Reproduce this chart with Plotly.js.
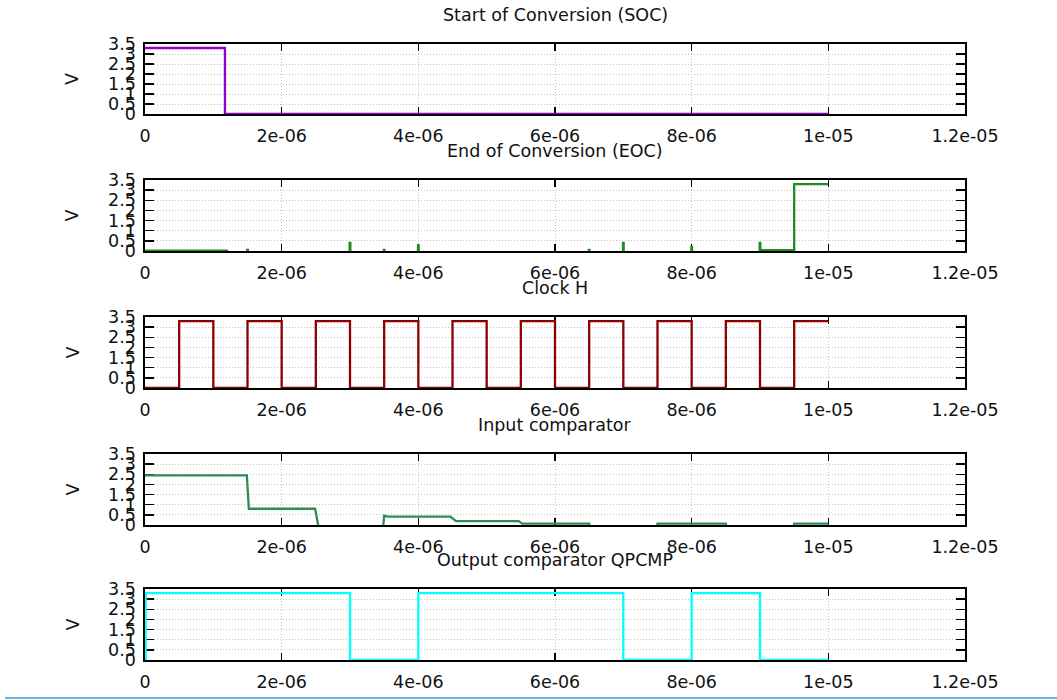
<!DOCTYPE html>
<html>
<head>
<meta charset="utf-8">
<script src="https://cdn.plot.ly/plotly-3.0.1.min.js"></script>
<style>html,body{margin:0;padding:0;background:#fff;}#chart{width:1057px;height:700px;}</style>
</head>
<body>
<div id="chart"></div>
<script>
// ---- data (time in seconds, voltage in V) ----
const titles = ["Start of Conversion (SOC)", "End of Conversion (EOC)", "Clock H", "Input comparator", "Output comparator QPCMP"];
const xTickVals = [0, 2e-6, 4e-6, 6e-6, 8e-6, 1e-5, 1.2e-5];
const xTickText = ["0", "2e-06", "4e-06", "6e-06", "8e-06", "1e-05", "1.2e-05"];
const yTickVals = [0, 0.5, 1, 1.5, 2, 2.5, 3, 3.5];
const yTickText = ["0", "0.5", "1", "1.5", "2", "2.5", "3", "3.5"];

const socT = [0, 1.17e-6, 1e-5];
const socV = [3.3, 0, 0];

const eocT = [0, 1.2e-6, 1.495e-6, 1.505e-6, 2.995e-6, 3.005e-6, 3.495e-6, 3.505e-6, 3.995e-6, 4.005e-6, 6.495e-6, 6.505e-6, 6.995e-6, 7.005e-6, 7.995e-6, 8.005e-6, 8.995e-6, 9.005e-6, 9.5e-6, 1e-5];
const eocV = [0.02, -0.3, 0.05, -0.3, 0.4, -0.3, 0.05, -0.3, 0.28, -0.3, 0.05, -0.3, 0.4, -0.3, 0.2, -0.3, 0.4, 0.04, 3.3, 3.3];

const clkT = [0, 0.5e-6, 1e-6, 1.5e-6, 2e-6, 2.5e-6, 3e-6, 3.5e-6, 4e-6, 4.5e-6, 5e-6, 5.5e-6, 6e-6, 6.5e-6, 7e-6, 7.5e-6, 8e-6, 8.5e-6, 9e-6, 9.5e-6, 1e-5];
const clkV = [0, 3.3, 0, 3.3, 0, 3.3, 0, 3.3, 0, 3.3, 0, 3.3, 0, 3.3, 0, 3.3, 0, 3.3, 0, 3.3, 3.3];

const cmpInT = [0, 1.49e-6, 1.52e-6, 2.49e-6, 2.55e-6, 3.48e-6, 3.5e-6, 3.56e-6, 4.47e-6, 4.55e-6, 5.47e-6, 5.52e-6, 6.5e-6, 6.52e-6, 7.48e-6, 7.5e-6, 8.5e-6, 8.52e-6, 9.48e-6, 9.5e-6, 1e-5];
const cmpInV = [2.45, 2.45, 0.8, 0.8, -0.3, -0.3, 0.46, 0.41, 0.41, 0.19, 0.19, 0.07, 0.07, -0.3, -0.3, 0.07, 0.07, -0.3, -0.3, 0.07, 0.07];

const cmpOutT = [0, 0.01e-6, 3e-6, 4e-6, 7e-6, 8e-6, 9e-6, 1e-5];
const cmpOutV = [0, 3.3, 0, 3.3, 0, 3.3, 0, 0];

const colors = ["#9400d3", "#228b22", "#8b0000", "#2e8b57", "#00ffff"];

// ---- layout geometry ----
const W = 1057, H = 700;
const plotTopPx = [44, 180, 317, 454, 589];
const plotBotPx = [114, 251, 388, 525, 660];

const series = [
  {t: socT, v: socV, shape: "hv"},
  {t: eocT, v: eocV, shape: "hv"},
  {t: clkT, v: clkV, shape: "hv"},
  {t: cmpInT, v: cmpInV, shape: "linear"},
  {t: cmpOutT, v: cmpOutV, shape: "hv"}
];

const font = {family: "DejaVu Sans", size: 17.5, color: "#111"};
const data = [];
const layout = {
  width: W, height: H,
  margin: {l: 145, r: 92, t: 0, b: 0},
  paper_bgcolor: "#fff", plot_bgcolor: "#fff",
  showlegend: false,
  font: font,
  annotations: [],
  shapes: [{type: "line", xref: "paper", yref: "paper", x0: -140 / 820, x1: 912 / 820, y0: 2 / 700, y1: 2 / 700, line: {color: "#64b4e6", width: 2}}]
};

series.forEach((s, i) => {
  const n = i === 0 ? "" : String(i + 1);
  data.push({
    x: s.t, y: s.v, type: "scatter", mode: "lines",
    line: {color: colors[i], width: 2.3, shape: s.shape},
    xaxis: "x" + n, yaxis: "y" + n, hoverinfo: "skip"
  });
  const dom = [1 - plotBotPx[i] / H, 1 - plotTopPx[i] / H];
  layout["xaxis" + n] = {
    anchor: "y" + n, domain: [0, 1], range: [0, 1.2e-5],
    tickmode: "array", tickvals: xTickVals, ticktext: xTickText,
    ticks: "inside", ticklen: 7, tickwidth: 1.5, tickcolor: "#000",
    showline: true, linecolor: "#000", linewidth: 1.6, mirror: "allticks",
    showgrid: true, gridcolor: "#c4c4c4", griddash: "1px,2px", gridwidth: 1,
    zeroline: false, layer: "below traces", fixedrange: true,
    tickfont: font, ticklabelstandoff: 5
  };
  layout["yaxis" + n] = {
    anchor: "x" + n, domain: dom, range: [0, 3.5],
    tickmode: "array", tickvals: yTickVals, ticktext: yTickText,
    ticks: "inside", ticklen: 9, tickwidth: 1.5, tickcolor: "#000",
    showline: true, linecolor: "#000", linewidth: 1.6, mirror: "allticks",
    showgrid: true, gridcolor: "#c4c4c4", griddash: "1px,2px", gridwidth: 1,
    zeroline: false, layer: "below traces", fixedrange: true,
    tickfont: font, ticklabelstandoff: 4
  };
  layout.annotations.push({
    text: titles[i], xref: "paper", yref: "paper", x: 0.5, y: 1 - (plotTopPx[i] - 29) / H,
    xanchor: "center", yanchor: "middle", showarrow: false, font: font
  });
  layout.annotations.push({
    text: "V", xref: "paper", yref: "paper", x: (72 - 145) / (W - 145 - 92), y: (dom[0] + dom[1]) / 2,
    xanchor: "center", yanchor: "middle", textangle: -90, showarrow: false, font: font
  });
});

Plotly.newPlot("chart", data, layout, {displayModeBar: false, staticPlot: true});
</script>
</body>
</html>
